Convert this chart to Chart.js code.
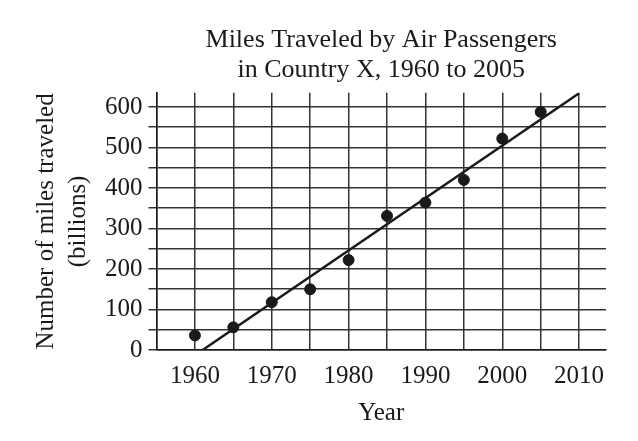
<!DOCTYPE html>
<html>
<head>
<meta charset="utf-8">
<script src="https://cdn.jsdelivr.net/npm/chart.js@4"></script>
<style>
  html, body { margin: 0; padding: 0; background: #fff; }
  #wrap { width: 638px; height: 441px; }
</style>
</head>
<body>
<div id="wrap"><canvas id="milesChart"></canvas></div>
<script>
// --------- Data ----------
const years = [1960, 1965, 1970, 1975, 1980, 1985, 1990, 1995, 2000, 2005];
const miles = [36, 56, 118, 150, 222, 331, 364, 420, 522, 588];

// line of best fit, end points
const fitYears = [1961, 2010];
const fitMiles = [0, 634];

const titleLines = ["Miles Traveled by Air Passengers", "in Country X, 1960 to 2005"];
const yTitle = ["Number of miles traveled", "(billions)"];
const xTitle = "Year";

const serif = "'Liberation Serif', 'DejaVu Serif', serif";
const ink = "#1a1a1a";

const points = years.map((y, i) => ({ x: y, y: miles[i] }));
const fit = fitYears.map((y, i) => ({ x: y, y: fitMiles[i] }));

// --------- Chart ----------
const milesChart = new Chart(document.getElementById("milesChart"), {
  type: "scatter",
  data: {
    datasets: [
      {
        label: "Best fit",
        data: fit,
        showLine: true,
        borderColor: ink,
        borderWidth: 2.5,
        pointRadius: 0,
        order: 2,
      },
      {
        label: "Miles traveled",
        data: points,
        backgroundColor: ink,
        borderColor: ink,
        pointRadius: 5.5,
        order: 1,
      },
    ],
  },
  options: {
    responsive: true,
    maintainAspectRatio: false,
    animation: false,
    layout: { padding: { left: 26, right: 32, top: 25, bottom: 17 } },
    plugins: {
      legend: { display: false },
      tooltip: { enabled: false },
      title: {
        display: true,
        text: titleLines,
        fullSize: false,
        color: ink,
        font: { family: serif, size: 26, weight: "normal", lineHeight: 1.15 },
        padding: { top: 0, bottom: 8 },
      },
    },
    scales: {
      x: {
        type: "linear",
        min: 1955,
        max: 2013.5,
        border: { display: true, color: ink, width: 1.5 },
        grid: { color: "#333", lineWidth: 1.5, drawTicks: false },
        ticks: {
          stepSize: 5,
          includeBounds: false,
          autoSkip: false,
          maxRotation: 0,
          padding: 11,
          color: ink,
          font: { family: serif, size: 25 },
          callback: (v) => (v % 10 === 0 ? String(v) : ""),
        },
        title: {
          display: true,
          text: xTitle,
          color: ink,
          font: { family: serif, size: 25, lineHeight: 0.88 },
          padding: { top: 0, bottom: 0 },
        },
      },
      y: {
        min: 0,
        max: 635,
        border: { display: true, color: ink, width: 1.5 },
        grid: { color: "#333", lineWidth: 1.5, tickLength: 8 },
        ticks: {
          stepSize: 50,
          includeBounds: false,
          autoSkip: false,
          padding: 6,
          color: ink,
          font: { family: serif, size: 25 },
          callback: (v) => (v % 100 === 0 ? String(v) : ""),
        },
        title: {
          display: true,
          text: yTitle,
          color: ink,
          font: { family: serif, size: 25, lineHeight: 1.28 },
          padding: { top: 4, bottom: 5 },
        },
      },
    },
  },
});
</script>
</body>
</html>
